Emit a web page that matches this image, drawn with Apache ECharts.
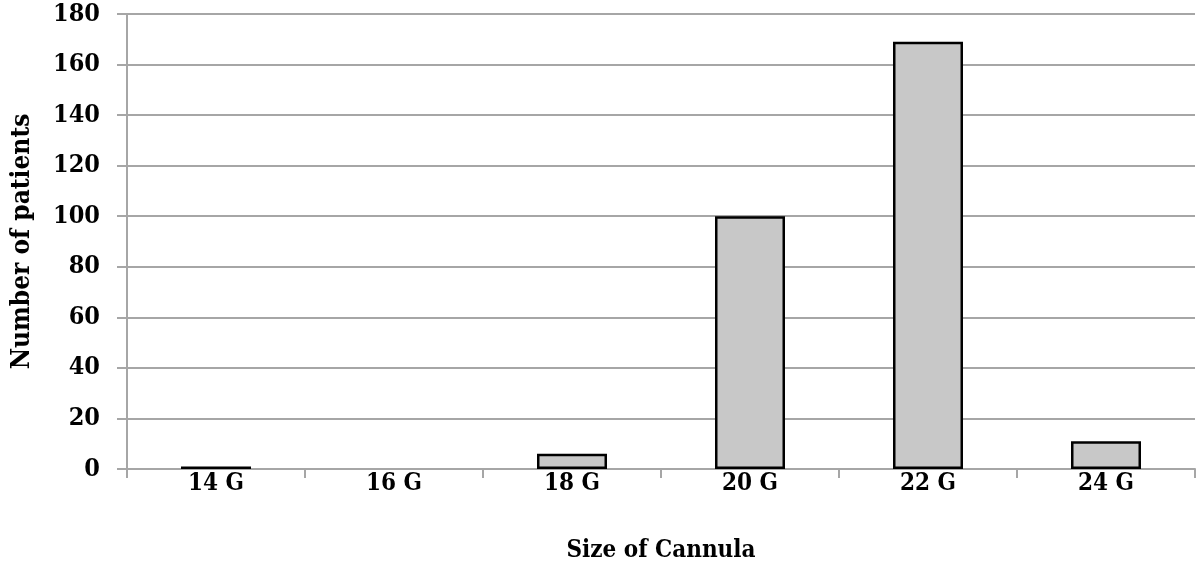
<!DOCTYPE html>
<html>
<head>
<meta charset="utf-8">
<script src="https://cdn.jsdelivr.net/npm/echarts@6/dist/echarts.min.js"></script>
<style>
    html, body { margin: 0; padding: 0; background: #fff; }
    #chart { width: 1200px; height: 575px; }
</style>
</head>
<body>
<div id="chart"></div>
<script>
    // cannula sizes and patient counts
    const categories = ['14 G', '16 G', '18 G', '20 G', '22 G', '24 G'];
    const patients = [1, 0, 6, 100, 169, 11];
    const yTicks = { min: 0, max: 180, interval: 20 };

    const font = '"DejaVu Serif Condensed", "DejaVu Serif", serif';
    let myChart = echarts.init(document.getElementById('chart'));

    // a zero bar has no outline in the original
    let barData = patients.map(v => v === 0
        ? { value: v, itemStyle: { borderWidth: 0 } }
        : v);

    let option = {
        animation: false,
        grid: { left: 127, right: 5, top: 14, bottom: 106 },
        xAxis: {
            type: 'category',
            data: categories,
            name: 'Size of Cannula',
            nameLocation: 'middle',
            nameGap: 70,
            nameTextStyle: { fontFamily: font, fontWeight: 'bold', fontSize: 24, color: '#000' },
            axisLine: { lineStyle: { color: '#a6a6a6', width: 2 } },
            axisTick: { show: true, length: 9, lineStyle: { color: '#a6a6a6', width: 2 } },
            axisLabel: { fontFamily: font, fontWeight: 'bold', fontSize: 24, color: '#000', margin: 3 }
        },
        yAxis: {
            type: 'value',
            min: yTicks.min,
            max: yTicks.max,
            interval: yTicks.interval,
            name: 'Number of patients',
            nameLocation: 'middle',
            nameGap: 92,
            nameTextStyle: { fontFamily: font, fontWeight: 'bold', fontSize: 26, color: '#000' },
            axisLine: { show: true, lineStyle: { color: '#a6a6a6', width: 2 } },
            axisTick: { show: true, length: 10, lineStyle: { color: '#a6a6a6', width: 2 } },
            axisLabel: { fontFamily: font, fontWeight: 'bold', fontSize: 25, color: '#000', margin: 27 },
            splitLine: { lineStyle: { color: '#a6a6a6', width: 2 } }
        },
        series: [
            {
                type: 'bar',
                data: barData,
                barWidth: 70,
                itemStyle: { color: '#c8c8c8', borderColor: '#000', borderWidth: 2.5 }
            }
        ]
    };
    myChart.setOption(option);
</script>
</body>
</html>
